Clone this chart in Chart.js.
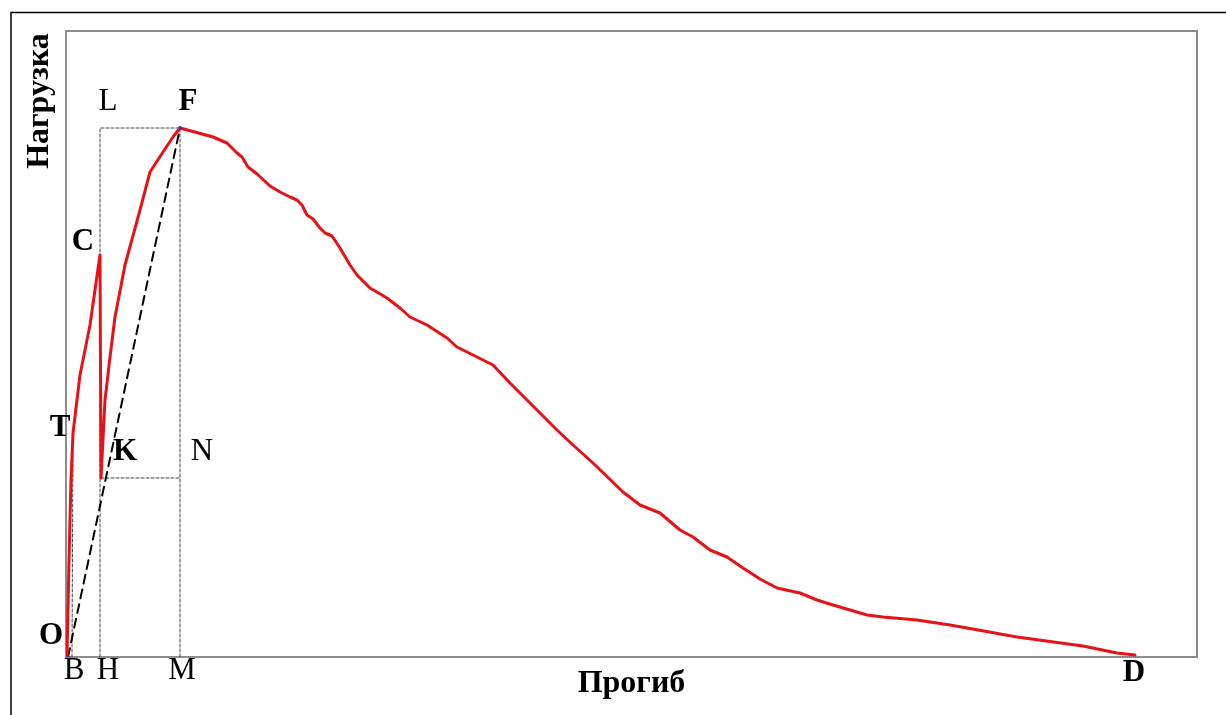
<!DOCTYPE html>
<html>
<head>
<meta charset="utf-8">
<title>Нагрузка — Прогиб</title>
<script src="https://cdn.jsdelivr.net/npm/chart.js@4.4.1/dist/chart.umd.min.js"></script>
<style>
  body { margin: 0; background: #fff; }
  #loadChart { display: block; }
</style>
</head>
<body>
<canvas id="loadChart" width="1226" height="715"></canvas>
<script>
// Кривая нагрузка–прогиб (условные единицы)
const curveX = [1, 3, 5, 7, 14, 24, 34, 35, 39, 44, 49, 59, 74, 84, 97, 107, 114,
  129, 147, 161, 171, 176, 182, 191, 204, 214, 224, 231, 236, 241, 247, 254, 259, 266,
  274, 284, 291, 304, 321, 334, 344, 361, 381, 391, 411, 421, 427, 444, 461, 491, 507,
  527, 557, 574, 594, 614, 627, 644, 661, 677, 694, 711, 734, 751, 767, 784, 801, 817,
  851, 884, 901, 951, 1017, 1051, 1069];
const curveY = [0, 97, 177, 224, 282, 332, 402, 179, 257, 300, 340, 392, 447, 485, 505, 520, 529,
  525, 520, 514, 504, 500, 490, 483, 471, 465, 460, 457, 452, 442, 438, 429, 424, 421,
  409, 392, 382, 369, 359, 349, 340, 332, 319, 310, 300, 295, 292, 274, 257, 227, 212,
  194, 165, 152, 144, 127, 120, 107, 100, 89, 78, 69, 64, 57, 52, 47, 42, 40,
  37, 32, 29, 20, 11, 4, 2];

// Характерные точки
const pointO = [2, 0];
const pointB = [6, 0];
const pointT = [7, 224];
const pointH = [34, 0];
const pointK = [35, 179];
const pointL = [34, 529];
const pointF = [114, 529];
const pointM = [114, 0];
const pointN = [114, 179];

const xMax = 1131;
const yMax = 626;

// Подписи: текст, x, y, жирный
const labelText = ["L", "F", "C", "T", "K", "N", "O", "B", "H", "M", "D"];
const labelX = [42, 122, 17, -6, 59, 136, -15, 8, 42, 116, 1068];
const labelY = [555, 555, 415, 229, 205, 205, 21, -14, -14, -14, -16];
const labelBold = [false, true, true, true, true, false, true, false, false, false, true];

const xTitle = "Прогиб";
const yTitle = "Нагрузка";

const toPts = (xs, ys) => xs.map((x, i) => ({ x: x, y: ys[i] }));
const seg = (...pts) => pts.map(p => ({ x: p[0], y: p[1] }));

const guide = (data) => ({
  data: data,
  showLine: true,
  borderColor: "#444",
  borderWidth: 1,
  borderDash: [3, 2],
  pointRadius: 0,
  order: 3,
});

const framePlugin = {
  id: "frame",
  beforeDraw(chart) {
    const ctx = chart.ctx;
    ctx.save();
    ctx.fillStyle = "#fff";
    ctx.fillRect(0, 0, chart.width, chart.height);
    ctx.strokeStyle = "#000";
    ctx.lineWidth = 1.5;
    ctx.beginPath();
    ctx.moveTo(11, chart.height);
    ctx.lineTo(11, 12.5);
    ctx.lineTo(chart.width, 12.5);
    ctx.stroke();
    const a = chart.chartArea;
    ctx.strokeStyle = "#8c8c8c";
    ctx.lineWidth = 2;
    ctx.strokeRect(a.left, a.top, a.right - a.left, a.bottom - a.top);
    ctx.restore();
  },
  afterDraw(chart) {
    const ctx = chart.ctx;
    const xs = chart.scales.x, ys = chart.scales.y;
    const a = chart.chartArea;
    ctx.save();
    ctx.fillStyle = "#000";
    ctx.textAlign = "center";
    ctx.textBaseline = "middle";
    labelText.forEach((t, i) => {
      ctx.font = (labelBold[i] ? "bold " : "") + "31px 'Liberation Serif'";
      ctx.fillText(t, xs.getPixelForValue(labelX[i]), ys.getPixelForValue(labelY[i]));
    });
    ctx.font = "bold 32px 'Liberation Serif'";
    ctx.fillText(xTitle, (a.left + a.right) / 2, a.bottom + 27);
    ctx.translate(a.left - 26, a.top + 70);
    ctx.rotate(-Math.PI / 2);
    ctx.fillText(yTitle, 0, 0);
    ctx.restore();
  },
};

new Chart(document.getElementById("loadChart"), {
  type: "scatter",
  data: {
    datasets: [
      {
        data: toPts(curveX, curveY),
        showLine: true,
        borderColor: "rgb(232, 18, 22)",
        borderWidth: 3,
        pointRadius: 0,
        tension: 0,
        order: 1,
      },
      {
        data: seg(pointO, pointF),
        showLine: true,
        borderColor: "#000",
        borderWidth: 2,
        borderDash: [9, 6],
        pointRadius: 0,
        order: 2,
      },
      guide(seg(pointH, pointL, pointF, pointM)),
      guide(seg(pointK, pointN)),
      guide(seg(pointB, pointT)),
      {
        data: seg(pointF, pointO),
        pointRadius: 2,
        pointBackgroundColor: "#5a2ca0",
        pointBorderWidth: 0,
        order: 0,
      },
    ],
  },
  options: {
    responsive: false,
    animation: false,
    layout: { padding: { left: 66, top: 31, right: 29, bottom: 58 } },
    plugins: { legend: { display: false }, tooltip: { enabled: false } },
    scales: {
      x: { type: "linear", min: 0, max: xMax, display: false },
      y: { type: "linear", min: 0, max: yMax, display: false },
    },
    elements: { line: { borderCapStyle: "round", borderJoinStyle: "round" } },
  },
  plugins: [framePlugin],
});
</script>
</body>
</html>
